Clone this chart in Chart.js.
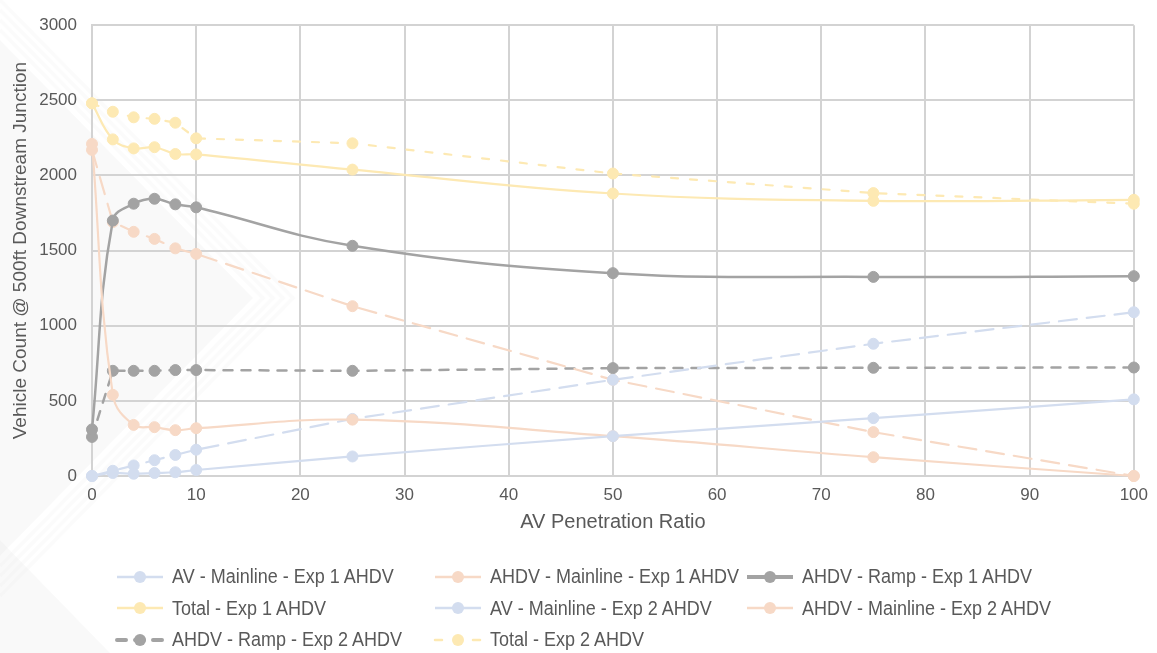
<!DOCTYPE html>
<html>
<head>
<meta charset="utf-8">
<script src="https://cdn.jsdelivr.net/npm/chart.js@4.4.1/dist/chart.umd.min.js"></script>
<style>
  html, body { margin: 0; padding: 0; background: #fff; }
  #wrap { position: relative; width: 1157px; height: 653px; overflow: hidden; }
  #chart { position: absolute; left: 0; top: 0; }
  #legend {
    position: absolute; left: 115px; top: 561px;
    display: grid; grid-template-columns: 318px 312px auto; grid-auto-rows: 31.5px;
    font-family: "Liberation Sans", Arial, sans-serif;
    font-size: 20px; color: #595959;
  }
  .item { display: flex; align-items: center; white-space: nowrap; }
  .item canvas { margin-right: 7px; flex: none; }
  .item span { display: inline-block; transform: scaleX(0.9); transform-origin: left center; }
</style>
</head>
<body>
<div id="wrap">
  <canvas id="chart" width="1157" height="653"></canvas>
  <div id="legend"></div>
</div>
<script>
const avRatio = [0, 2, 4, 6, 8, 10, 25, 50, 75, 100];

const avMainline1 = [0, 20, 15, 20, 25, 40, 130, 265, 385, 510];
const ahdvMainline1 = [2210, 540, 340, 325, 305, 318, 375, 265, 125, 0];
const ahdvRamp1 = [310, 1700, 1812, 1845, 1808, 1788, 1532, 1350, 1325, 1330];
const total1 = [2480, 2240, 2180, 2188, 2143, 2140, 2039, 1880, 1831, 1838];
const avMainline2 = [0, 35, 70, 105, 140, 175, 380, 640, 880, 1090];
const ahdvMainline2 = [2170, 1690, 1625, 1578, 1515, 1478, 1130, 640, 292, 0];
const ahdvRamp2 = [260, 700, 700, 700, 705, 705, 700, 718, 720, 722];
const total2 = [2480, 2424, 2387, 2377, 2351, 2247, 2214, 2013, 1883, 1812];

const yTicks = [0, 500, 1000, 1500, 2000, 2500, 3000];
const xTicks = [0, 10, 20, 30, 40, 50, 60, 70, 80, 90, 100];

const BLUE = '#d3ddef', PEACH = '#f7d9c6', GRAY = '#a3a3a3', YELLOW = '#fde9b3';
const TEXT = '#595959', GRID = '#d3d3d3';

const toPts = vals => vals.map((v, i) => ({ x: avRatio[i], y: v }));

// label, values, colour, dash, smooth, legend dash
const series = [
  ['AV - Mainline - Exp 1 AHDV', avMainline1, BLUE, [], true, []],
  ['AHDV - Mainline - Exp 1 AHDV', ahdvMainline1, PEACH, [], true, []],
  ['AHDV - Ramp - Exp 1 AHDV', ahdvRamp1, GRAY, [], true, []],
  ['Total - Exp 1 AHDV', total1, YELLOW, [], true, []],
  ['AV - Mainline - Exp 2 AHDV', avMainline2, BLUE, [18, 10], false, []],
  ['AHDV - Mainline - Exp 2 AHDV', ahdvMainline2, PEACH, [18, 10], false, []],
  ['AHDV - Ramp - Exp 2 AHDV', ahdvRamp2, GRAY, [9, 9], false, [9, 9]],
  ['Total - Exp 2 AHDV', total2, YELLOW, [7, 12], false, [7, 12]]
];

const datasets = series.map(([label, vals, color, dash, smooth, legendDash]) => ({
  label: label,
  data: toPts(vals),
  borderColor: color,
  backgroundColor: color,
  borderWidth: color === GRAY ? 2.5 : 2.2,
  borderDash: dash,
  borderCapStyle: dash.length ? 'round' : 'butt',
  tension: smooth ? 0.4 : 0,
  pointRadius: 5.5,
  pointBackgroundColor: color,
  pointBorderColor: color,
  pointBorderWidth: 1,
  clip: false,
  legendDash: legendDash
}));

// faint chevron watermark behind the plot
const watermark = {
  id: 'watermark',
  beforeDraw(chart) {
    const ctx = chart.ctx;
    ctx.save();
    ctx.fillStyle = 'rgba(0,0,0,0.022)';
    ctx.beginPath();
    ctx.moveTo(0, 40); ctx.lineTo(253, 298); ctx.lineTo(0, 556); ctx.closePath();
    ctx.fill();
    ctx.beginPath();
    ctx.moveTo(0, 540); ctx.lineTo(0, 653); ctx.lineTo(110, 653); ctx.closePath();
    ctx.fill();
    ctx.strokeStyle = 'rgba(0,0,0,0.014)';
    ctx.lineWidth = 4;
    for (let k = 1; k <= 4; k++) {
      const o = k * 10;
      ctx.beginPath();
      ctx.moveTo(0, 40 - o); ctx.lineTo(253 + o, 298); ctx.lineTo(0, 556 + o);
      ctx.stroke();
    }
    ctx.restore();
  }
};

const chart = new Chart(document.getElementById('chart'), {
  type: 'line',
  data: { datasets: datasets },
  plugins: [watermark],
  options: {
    responsive: false,
    animation: false,
    layout: { padding: { top: 14, right: 14, bottom: 117, left: 0 } },
    plugins: { legend: { display: false }, tooltip: { enabled: false } },
    scales: {
      x: {
        type: 'linear', min: 0, max: 100,
        afterBuildTicks: s => { s.ticks = xTicks.map(v => ({ value: v })); },
        afterFit: s => { s.height = 60; },
        ticks: { padding: 9, color: TEXT, font: { family: 'Liberation Sans', size: 17 }, callback: v => String(v) },
        grid: { color: GRID, lineWidth: 2, drawTicks: false },
        border: { color: GRID, width: 2 },
        title: {
          display: true, text: 'AV Penetration Ratio', color: TEXT,
          font: { family: 'Liberation Sans', size: 20 }, padding: { top: 0, bottom: 2 }
        }
      },
      y: {
        min: 0, max: 3000,
        afterBuildTicks: s => { s.ticks = yTicks.map(v => ({ value: v })); },
        afterFit: s => { s.width = 92; },
        ticks: { padding: 15, color: TEXT, font: { family: 'Liberation Sans', size: 17 }, callback: v => String(v) },
        grid: { color: GRID, lineWidth: 2, drawTicks: false },
        border: { color: GRID, width: 2 },
        title: {
          display: true, text: 'Vehicle Count @ 500ft Downstream Junction', color: TEXT,
          font: { family: 'Liberation Sans', size: 19 }, padding: { top: 9, bottom: 0 }
        }
      }
    }
  }
});

// HTML legend laid out as a 3-column grid
const legendEl = document.getElementById('legend');
chart.data.datasets.forEach(ds => {
  const item = document.createElement('div');
  item.className = 'item';
  const c = document.createElement('canvas');
  c.width = 50; c.height = 20;
  const g = c.getContext('2d');
  g.strokeStyle = ds.borderColor;
  g.lineWidth = ds.borderColor === GRAY ? 4 : 2.5;
  g.setLineDash(ds.legendDash);
  g.lineCap = ds.legendDash.length ? 'round' : 'butt';
  g.beginPath(); g.moveTo(2, 10); g.lineTo(48, 10); g.stroke();
  g.setLineDash([]);
  g.fillStyle = ds.pointBackgroundColor;
  g.beginPath(); g.arc(25, 10, 6, 0, Math.PI * 2); g.fill();
  const t = document.createElement('span');
  t.textContent = ds.label;
  item.appendChild(c);
  item.appendChild(t);
  legendEl.appendChild(item);
});
</script>
</body>
</html>
